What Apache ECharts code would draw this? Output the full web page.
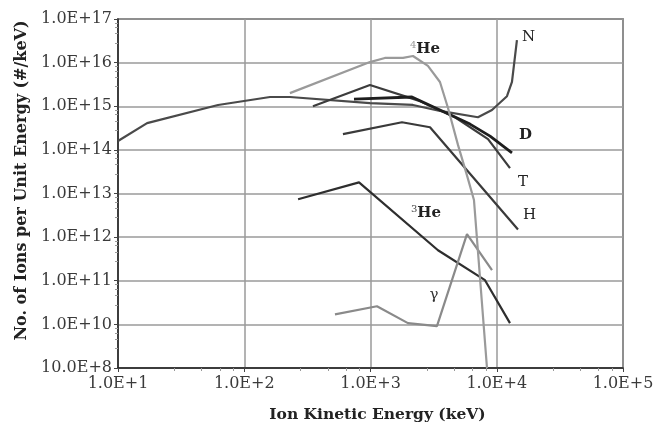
<!DOCTYPE html>
<html>
<head>
<meta charset="utf-8">
<script src="https://cdn.jsdelivr.net/npm/echarts@6/dist/echarts.min.js"></script>
<style>
  html, body { margin: 0; padding: 0; background: #fff; }
  #chart { width: 665px; height: 428px; }
</style>
</head>
<body>
<div id="chart"></div>
<script>
// Ion energy spectra (counts per keV vs. kinetic energy, keV)
const nEnergy   = [10, 17, 62, 160, 230, 990, 2170, 3550, 7100, 9170, 12050, 13200, 14450];
const nCount    = [1.6e14, 4.1e14, 1.07e15, 1.63e15, 1.63e15, 1.18e15, 1.07e15, 7.8e14, 5.6e14, 8.2e14, 1.7e15, 3.6e15, 3.3e16];

const he4Energy = [230, 990, 1300, 1810, 2170, 2850, 3550, 4110, 4930, 5810, 6600, 8370];
const he4Count  = [2.0e15, 1.03e16, 1.28e16, 1.28e16, 1.42e16, 8.4e15, 3.6e15, 9.1e14, 1.3e14, 2.6e13, 7.1e12, 1.0e9];

const dEnergy   = [740, 2130, 3550, 6140, 8850, 13200];
const dCount    = [1.46e15, 1.63e15, 8.2e14, 3.9e14, 2.07e14, 8.5e13];

const tEnergy   = [350, 990, 2470, 4670, 8530, 12730];
const tCount    = [1.0e15, 3.06e15, 1.31e15, 5.6e14, 1.77e14, 3.8e13];

const hEnergy   = [605, 1775, 2960, 14730];
const hCount    = [2.3e14, 4.3e14, 3.3e14, 1.5e12];

const he3Energy = [267, 811, 3425, 8070, 12730];
const he3Count  = [7.4e12, 1.8e13, 5.0e11, 1.03e11, 1.07e10];

const gEnergy   = [523, 1125, 1980, 3360, 5810, 9170];
const gCount    = [1.7e10, 2.6e10, 1.07e10, 9.1e9, 1.17e12, 1.75e11];

// Tick labels for the decades 1E+9 .. 1E+17 and 1E+1 .. 1E+5
const yTickLabels = ['10.0E+8', '1.0E+10', '1.0E+11', '1.0E+12', '1.0E+13', '1.0E+14', '1.0E+15', '1.0E+16', '1.0E+17'];
const xTickLabels = ['1.0E+1', '1.0E+2', '1.0E+3', '1.0E+4', '1.0E+5'];

const zip = (xs, ys) => xs.map((x, i) => [x, ys[i]]);
const serif = '"DejaVu Serif", "Liberation Serif", serif';

function lineSeries(name, xs, ys, color, width, extra) {
  return Object.assign({
    name: name,
    type: 'line',
    data: zip(xs, ys),
    symbol: 'none',
    clip: true,
    lineStyle: { color: color, width: width },
    z: 3
  }, extra || {});
}

function endText(text, offset, bold) {
  return {
    show: true,
    formatter: text,
    color: '#222',
    fontFamily: serif,
    fontSize: 15,
    fontWeight: bold ? 'bold' : 'normal',
    distance: 5,
    offset: offset
  };
}

function tagAt(coord, text, offset, rich) {
  return {
    symbol: 'circle',
    symbolSize: 1,
    itemStyle: { color: 'transparent' },
    data: [{
      coord: coord,
      label: {
        show: true,
        position: 'inside',
        formatter: text,
        offset: offset,
        fontFamily: serif,
        color: '#333',
        fontSize: 15,
        rich: rich
      }
    }]
  };
}

const richHe = {
  sup: { fontSize: 10, fontFamily: serif, color: '#444', verticalAlign: 'top', padding: [0, 0, 8, 0] },
  b: { fontSize: 15, fontFamily: serif, fontWeight: 'bold', color: '#222' }
};
const richHe4 = {
  sup: { fontSize: 10, fontFamily: serif, color: '#999', verticalAlign: 'top', padding: [0, 0, 8, 0] },
  b: { fontSize: 15, fontFamily: serif, fontWeight: 'bold', color: '#222' }
};

const chart = echarts.init(document.getElementById('chart'), null, { renderer: 'canvas' });

chart.setOption({
  animation: false,
  backgroundColor: '#fff',
  grid: {
    left: 118, right: 42, top: 19, bottom: 60,
    show: true, borderColor: '#444', borderWidth: 1.5, backgroundColor: 'transparent'
  },
  xAxis: {
    type: 'log',
    logBase: 10,
    min: 10,
    max: 1e5,
    interval: 1,
    name: 'Ion Kinetic Energy (keV)',
    nameLocation: 'middle',
    nameGap: 39,
    nameTextStyle: {
      fontFamily: serif, fontSize: 15.5, fontWeight: 'bold', color: '#222',
      padding: [0, 0, 0, 14]
    },
    axisLine: { show: true, lineStyle: { color: '#222', width: 1.5 } },
    axisTick: { show: true, length: 4, lineStyle: { color: '#444' } },
    minorTick: { show: true, splitNumber: 5, length: 3, lineStyle: { color: '#999' } },
    axisLabel: {
      fontFamily: serif, fontSize: 16, color: '#3a3a3a', margin: 8,
      formatter: v => xTickLabels[Math.round(Math.log10(v)) - 1]
    },
    splitLine: { show: true, lineStyle: { color: '#9a9a9a', width: 1.5 } }
  },
  yAxis: {
    type: 'log',
    logBase: 10,
    min: 1e9,
    max: 1e17,
    interval: 1,
    name: 'No. of Ions per Unit Energy (#/keV)',
    nameLocation: 'middle',
    nameGap: 82,
    nameTextStyle: {
      fontFamily: serif, fontSize: 16, fontWeight: 'bold', color: '#222',
      padding: [0, 0, 0, 26]
    },
    axisLine: { show: true, lineStyle: { color: '#222', width: 1.5 } },
    axisTick: { show: true, length: 4, lineStyle: { color: '#444' } },
    minorTick: { show: true, splitNumber: 5, length: 3, lineStyle: { color: '#999' } },
    axisLabel: {
      fontFamily: serif, fontSize: 16, color: '#3a3a3a', margin: 6,
      formatter: v => yTickLabels[Math.round(Math.log10(v)) - 9]
    },
    splitLine: { show: true, lineStyle: { color: '#9a9a9a', width: 1.5 } }
  },
  series: [
    lineSeries('N', nEnergy, nCount, '#4a4a4a', 2.2, {
      endLabel: endText('N', [0, -3], false)
    }),
    lineSeries('T', tEnergy, tCount, '#3c3c3c', 2.2, {
      endLabel: endText('T', [3, 14], false)
    }),
    lineSeries('D', dEnergy, dCount, '#1e1e1e', 2.8, {
      endLabel: endText('D', [2, -18], true)
    }),
    lineSeries('H', hEnergy, hCount, '#3a3a3a', 2.2, {
      endLabel: endText('H', [0, -14], false)
    }),
    lineSeries('3He', he3Energy, he3Count, '#2e2e2e', 2.2, {
      markPoint: tagAt([he3Energy[2], he3Count[2]], '{sup|3}{b|He}', [-12, -37], richHe)
    }),
    lineSeries('4He', he4Energy, he4Count, '#9a9a9a', 2.2, {
      z: 4,
      markPoint: tagAt([he4Energy[4], he4Count[4]], '{sup|4}{b|He}', [12, -7], richHe4)
    }),
    lineSeries('gamma', gEnergy, gCount, '#8a8a8a', 2.2, {
      markPoint: tagAt([gEnergy[3], gCount[3]], 'γ', [-3, -31], {})
    })
  ]
});
</script>
</body>
</html>
